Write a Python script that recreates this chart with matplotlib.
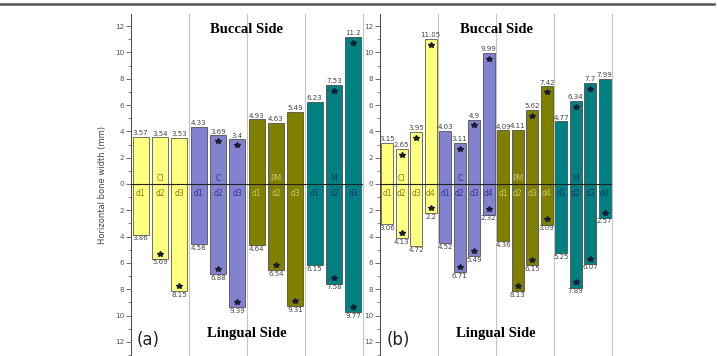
import matplotlib
matplotlib.use("Agg")
import matplotlib.pyplot as plt
from matplotlib.lines import Line2D
from matplotlib.ticker import FuncFormatter, MultipleLocator

GROUPS = ["CI", "C", "PM", "M"]
GROUP_COLORS = ["#FFFF80", "#8282CF", "#808000", "#008080"]
LABEL_COLORS = ["#8C7A1E", "#34349A", "#C8C870", "#0B3C72"]

# panel (a): three distances per tooth group
A_DIST = ["d1", "d2", "d3"]
A_BUCCAL = [3.57, 3.54, 3.53, 4.33, 3.69, 3.4, 4.93, 4.63, 5.49, 6.23, 7.53, 11.2]
A_BUCCAL_SIG = [0, 0, 0, 0, 1, 1, 0, 0, 0, 0, 1, 1]
A_LINGUAL = [3.86, 5.69, 8.15, 4.58, 6.88, 9.39, 4.64, 6.54, 9.31, 6.15, 7.58, 9.77]
A_LINGUAL_SIG = [0, 1, 1, 0, 1, 1, 0, 1, 1, 0, 1, 1]

# panel (b): four distances per tooth group
B_DIST = ["d1", "d2", "d3", "d4"]
B_BUCCAL = [3.15, 2.65, 3.95, 11.05, 4.03, 3.11, 4.9, 9.99,
            4.09, 4.11, 5.62, 7.42, 4.77, 6.34, 7.7, 7.99]
B_BUCCAL_SIG = [0, 1, 1, 1, 0, 1, 1, 1, 0, 0, 1, 1, 0, 1, 1, 0]
B_LINGUAL = [3.06, 4.13, 4.72, 2.2, 4.52, 6.71, 5.49, 2.32,
             4.36, 8.13, 6.15, 3.09, 5.25, 7.89, 6.07, 2.57]
B_LINGUAL_SIG = [0, 1, 0, 1, 0, 1, 1, 1, 0, 1, 1, 1, 0, 1, 1, 1]

W, H = 717, 356
Y0_PX, PX_PER_UNIT = 184, 13.15
TOP_PX = 14


def draw_panel(ax, dists, buccal, bsig, lingual, lsig, tag, group_slot):
    n = len(dists)
    total = n * len(GROUPS)
    for i in range(total):
        g = i // n
        x = i + 0.5
        color = GROUP_COLORS[g]
        ax.bar(x, buccal[i], width=0.82, color=color, edgecolor="#3a3a3a", linewidth=0.5, zorder=2)
        ax.bar(x, -lingual[i], width=0.82, color=color, edgecolor="#3a3a3a", linewidth=0.5, zorder=2)
        ax.text(x, buccal[i] + 0.05, f"{buccal[i]:g}", ha="center", va="bottom",
                fontsize=5, color="#444444", zorder=4)
        ax.text(x, -lingual[i] - 0.05, f"{lingual[i]:g}", ha="center", va="top",
                fontsize=5, color="#444444", zorder=4)
        if bsig[i]:
            ax.plot(x, buccal[i] - 0.45, marker="*", ms=4, color="#1a1a30", zorder=4)
        if lsig[i]:
            ax.plot(x, -lingual[i] + 0.4, marker="*", ms=4, color="#1a1a30", zorder=4)
        ax.text(x, -0.72, dists[i % n], ha="center", va="center", fontsize=5.5,
                color=LABEL_COLORS[g], zorder=4)
    for g, name in enumerate(GROUPS):
        ax.text(g * n + group_slot + 0.5, 0.45, name, ha="center", va="center",
                fontsize=5.5, color=LABEL_COLORS[g], zorder=4)
        if g > 0:
            ax.axvline(g * n, color="#c4c4c4", lw=0.8, zorder=1)

    ax.axhline(0, color="#222222", lw=0.8, zorder=3)
    ax.set_xlim(0, total)
    ax.set_ylim(-(H - Y0_PX) / PX_PER_UNIT, (Y0_PX - TOP_PX) / PX_PER_UNIT)
    ax.set_xticks([])
    ax.yaxis.set_major_locator(MultipleLocator(2))
    ax.yaxis.set_minor_locator(MultipleLocator(1))
    ax.yaxis.set_major_formatter(FuncFormatter(lambda v, p: f"{abs(v):.0f}"))
    ax.tick_params(axis="y", which="major", length=3.5, width=0.6, labelsize=5.2,
                   colors="#555555", pad=1.5)
    ax.tick_params(axis="y", which="minor", length=2, width=0.5, colors="#555555")
    for s in ["top", "bottom"]:
        ax.spines[s].set_visible(False)
    ax.spines["left"].set_color("#444444")
    ax.spines["left"].set_linewidth(0.7)
    ax.spines["right"].set_color("#c4c4c4")
    ax.spines["right"].set_linewidth(0.8)

    ax.text(total / 2, 11.75, "Buccal Side", ha="center", va="center",
            fontsize=10.5, fontweight="bold", family="Liberation Serif", zorder=5)
    ax.text(total / 2, -11.4, "Lingual Side", ha="center", va="center",
            fontsize=10.5, fontweight="bold", family="Liberation Serif", zorder=5)
    ax.text(tag[1], -11.85, tag[0], ha="left", va="center", fontsize=12, color="#222222", zorder=5)


fig = plt.figure(figsize=(W / 100, H / 100), dpi=100)
ax_h = (H - TOP_PX) / H
ax_a = fig.add_axes([131 / W, 0, 232 / W, ax_h])
ax_b = fig.add_axes([380 / W, 0, 232 / W, ax_h])
for ax in (ax_a, ax_b):
    ax.patch.set_alpha(0)

draw_panel(ax_a, A_DIST, A_BUCCAL, A_BUCCAL_SIG, A_LINGUAL, A_LINGUAL_SIG, ("(a)", 0.3), 1)
draw_panel(ax_b, B_DIST, B_BUCCAL, B_BUCCAL_SIG, B_LINGUAL, B_LINGUAL_SIG, ("(b)", 0.45), 1)

ax_a.set_ylabel("Horizontal bone width (mm)", fontsize=6, color="#444444")
ax_a.yaxis.set_label_coords(-24 / 232, 0.5)

fig.add_artist(Line2D([0, 0.996], [1 - 4 / H, 1 - 4 / H], transform=fig.transFigure,
                      color="#555555", lw=1.8))

fig.savefig("out.png", dpi=100)
